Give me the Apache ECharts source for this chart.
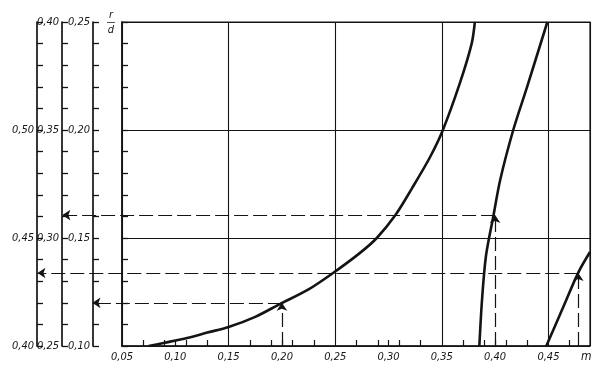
<!DOCTYPE html>
<html>
<head>
<meta charset="utf-8">
<script src="https://cdn.jsdelivr.net/npm/echarts@6/dist/echarts.min.js"></script>
<style>html,body{margin:0;padding:0;background:#fff}#c{width:604px;height:374px}</style>
</head>
<body>
<div id="c"></div>
<script>
// ---- data (m on x, r/d on y) ----
const curve1 = [[0.075,0.100],[0.09,0.1015],[0.111,0.1037],[0.13,0.1062],[0.15,0.1088],[0.175,0.1135],[0.198,0.1194],[0.225,0.1262],[0.248,0.1338],[0.273,0.143],[0.289,0.150],[0.307,0.161],[0.322,0.173],[0.339,0.1875],[0.351,0.200],[0.367,0.2218],[0.378,0.240],[0.381,0.250]];
const curve2 = [[0.3852,0.100],[0.3878,0.122],[0.3915,0.142],[0.3983,0.160],[0.4048,0.177],[0.417,0.200],[0.430,0.220],[0.449,0.250]];
const curve3 = [[0.448,0.100],[0.463,0.117],[0.478,0.134],[0.489,0.1435]];

// worked examples: m read-off, r/d reached, left end (in m units) where the reading arrow stops
const guideM = [0.20, 0.40, 0.478];
const guideRd = [0.12, 0.1606, 0.1338];
const guideEndM = [0.0223, -0.0059, -0.0293];

// axis ticks / labels
const xLabelValues = [0.05,0.10,0.15,0.20,0.25,0.30,0.35,0.40,0.45];
const xTickValues = [0.07,0.09,0.10,0.11,0.13,0.17,0.19,0.20,0.21,0.23,0.27,0.29,0.30,0.31,0.33,0.37,0.39,0.40,0.41,0.43,0.47];
const xGridStep = 0.1;
const yInnerLabels = [0.10,0.15,0.20,0.25];
const yMiddleLabels = [0.25,0.30,0.35,0.40];
const yOuterLabels = [0.40,0.45,0.50];
const xMin = 0.05, xMax = 0.489;

const INK = '#141414';
const FONT = '"Liberation Sans Narrow","DejaVu Sans Condensed","Liberation Sans",sans-serif';
const fmt = v => (Math.round(v*100)/100).toFixed(2).replace('.', ',');

function sideAxis(offset, min, labels) {
  return {
    type: 'value', position: 'left', offset: offset, min: min, max: +(min + 0.15).toFixed(2), interval: 0.05,
    axisLine: {show: true, onZero: false, lineStyle: {color: INK, width: 1.7}},
    axisTick: {show: true, inside: true, length: 6, lineStyle: {color: INK, width: 1.3}},
    minorTick: {show: true, splitNumber: 5, length: 6, lineStyle: {color: INK, width: 1.3}},
    splitLine: {show: false},
    axisLabel: labels ? {show: true, customValues: labels, formatter: fmt, margin: 3,
      fontStyle: 'italic', fontFamily: FONT, fontSize: 11, color: INK} : {show: false}
  };
}

const mainY = sideAxis(0, 0.10, null);
mainY.splitLine = {show: true, lineStyle: {color: INK, width: 1.1}};
mainY.name = '{r|r}\n{b|—}\n{d|d}';
mainY.nameLocation = 'end';
mainY.nameGap = -1;
mainY.nameTextStyle = {align: 'right', verticalAlign: 'middle', padding: [0, 5, 0, 0],
  rich: {
    r: {width: 12, align: 'center', fontStyle: 'italic', fontFamily: FONT, fontSize: 11, lineHeight: 8, color: INK},
    b: {width: 12, align: 'center', fontFamily: FONT, fontSize: 10, lineHeight: 6, color: INK},
    d: {width: 12, align: 'center', fontStyle: 'italic', fontFamily: FONT, fontSize: 11, lineHeight: 10, color: INK}
  }};

const yAxes = [mainY, sideAxis(29, 0.10, yInnerLabels), sideAxis(60, 0.25, yMiddleLabels), sideAxis(85, 0.40, yOuterLabels)];

const series = [];
[curve1, curve2, curve3].forEach(c => series.push({
  type: 'line', data: c, smooth: 0.3, symbol: 'none', clip: true,
  lineStyle: {color: INK, width: 2.6}
}));

// dashed read-off paths with arrowheads
const guideData = [];
guideM.forEach((m, i) => {
  guideData.push({coords: [[m, 0.10], [m, guideRd[i]]]});
  guideData.push({coords: [[m, guideRd[i]], [guideEndM[i], guideRd[i]]]});
});
series.push({
  type: 'lines', coordinateSystem: 'cartesian2d', xAxisIndex: 0, yAxisIndex: 0,
  clip: false, polyline: false, z: 3,
  symbol: ['none', 'arrow'], symbolSize: 8,
  lineStyle: {color: INK, width: 1.2, type: [14, 5], opacity: 1, curveness: 0},
  itemStyle: {color: INK},
  effect: {show: false},
  data: guideData
});

const chart = echarts.init(document.getElementById('c'), null, {renderer: 'canvas'});
chart.setOption({
  animation: false,
  backgroundColor: '#fff',
  grid: {left: 122, right: 14, top: 22, bottom: 28, show: true, borderColor: INK, borderWidth: 1.2, containLabel: false},
  xAxis: [{
    type: 'value', min: xMin, max: xMax, position: 'bottom',
    axisLine: {show: true, onZero: false, lineStyle: {color: INK, width: 1.6}},
    axisTick: {show: true, inside: true, length: 6, customValues: xTickValues, lineStyle: {color: INK, width: 1.2}},
    axisLabel: {customValues: xLabelValues, formatter: fmt, margin: 6, fontStyle: 'italic', fontFamily: FONT, fontSize: 11, color: INK},
    splitLine: {show: false},
    name: 'm', nameLocation: 'end', nameGap: -9,
    nameTextStyle: {fontStyle: 'italic', fontFamily: FONT, fontSize: 12, color: INK, align: 'left', verticalAlign: 'top', padding: [5, 0, 0, 0]}
  }, {
    type: 'value', min: xMin, max: xMax, interval: xGridStep, position: 'top',
    axisLine: {show: false}, axisTick: {show: false}, axisLabel: {show: false},
    splitLine: {show: true, lineStyle: {color: INK, width: 1.1}}
  }],
  yAxis: yAxes,
  series: series
});
</script>
</body>
</html>
